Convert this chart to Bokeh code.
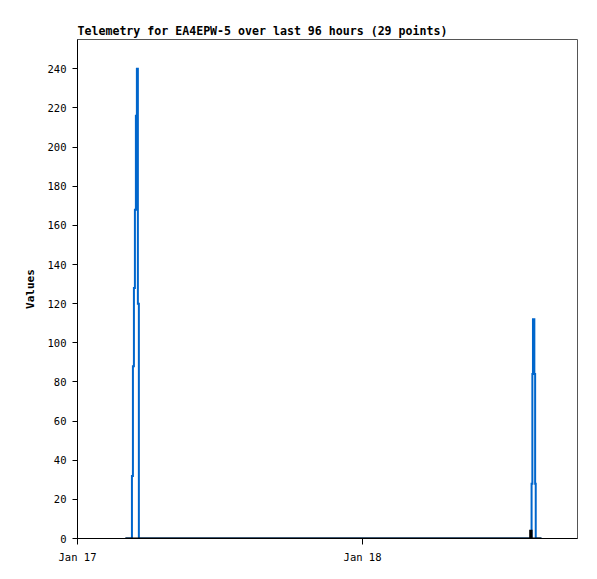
from datetime import datetime
from bokeh.plotting import figure
from bokeh.models import Range1d, FixedTicker, DatetimeTickFormatter, ColumnDataSource
from bokeh.embed import file_html
from bokeh.resources import INLINE

# ---- data ----
times = [
    "2025-01-17 04:02", "2025-01-17 04:35", "2025-01-17 04:40", "2025-01-17 04:45",
    "2025-01-17 04:50", "2025-01-17 04:55", "2025-01-17 05:00", "2025-01-17 05:05",
    "2025-01-17 05:10", "2025-01-17 07:10", "2025-01-17 09:40", "2025-01-17 12:25",
    "2025-01-17 15:05", "2025-01-17 18:30", "2025-01-17 21:50", "2025-01-18 01:15",
    "2025-01-18 04:40", "2025-01-18 07:20", "2025-01-18 09:55", "2025-01-18 12:05",
    "2025-01-18 13:40", "2025-01-18 14:07", "2025-01-18 14:14", "2025-01-18 14:18",
    "2025-01-18 14:21", "2025-01-18 14:28", "2025-01-18 14:32", "2025-01-18 14:35",
    "2025-01-18 15:04",
]
blue_values = [0, 32, 88, 128, 168, 216, 240, 120,
               0, 0, 0, 0, 0, 0, 0, 0,
               0, 0, 0, 0, 0, 0, 28, 84,
               112, 84, 28, 0, 0]
black_values = [0, 0, 0, 0, 0, 0, 0, 0,
                0, 0, 0, 0, 0, 0, 0, 0,
                0, 0, 0, 0, 0, 4, 0, 0,
                0, 0, 0, 0, 0]
y_ticks = [0, 20, 40, 60, 80, 100, 120, 140, 160, 180, 200, 220, 240]
x_tick_dates = ["2025-01-17 00:00", "2025-01-18 00:00"]
x_start = "2025-01-17 00:00"
x_end = "2025-01-18 18:06"
y_max = 255
title_text = "Telemetry for EA4EPW-5 over last 96 hours (29 points)"
y_label = "Values"

fmt = "%Y-%m-%d %H:%M"
t = [datetime.strptime(s, fmt) for s in times]
src = ColumnDataSource(dict(t=t, blue=blue_values, black=black_values))

def ms(s):
    return datetime.strptime(s, fmt).timestamp() * 1000.0

MONO = "DejaVu Sans Mono"

p = figure(width=588, height=571, output_backend="svg", toolbar_location=None,
           x_axis_type="datetime",
           x_range=Range1d(datetime.strptime(x_start, fmt), datetime.strptime(x_end, fmt)),
           y_range=Range1d(0, y_max),
           min_border_left=77, min_border_right=11, min_border_top=39, min_border_bottom=33)

p.step("t", "blue", source=src, mode="after", line_color="#0066cc", line_width=2,
       line_join="miter")
p.step("t", "black", source=src, mode="after", line_color="#000000", line_width=2,
       line_join="miter")

p.title.text = title_text
p.title.text_font = MONO
p.title.text_font_style = "bold"
p.title.text_font_size = "11.6px"
p.title.text_color = "black"
p.title.align = "left"
p.title.offset = 0
p.title.standoff = 4

p.grid.visible = False
p.outline_line_color = "#555555"
p.outline_line_width = 1
p.background_fill_color = "white"
p.border_fill_color = "white"

yax = p.yaxis[0]
yax.ticker = FixedTicker(ticks=y_ticks)
yax.minor_tick_line_color = None
yax.major_tick_out = 5
yax.major_tick_in = 0
yax.axis_line_color = "black"
yax.major_tick_line_color = "black"
yax.major_label_text_font = MONO
yax.major_label_text_font_size = "10.5px"
yax.major_label_text_color = "black"
yax.major_label_standoff = 6
yax.axis_label = y_label
yax.axis_label_text_font = MONO
yax.axis_label_text_font_style = "bold"
yax.axis_label_text_font_size = "11px"
yax.axis_label_text_color = "black"
yax.axis_label_standoff = 8

xax = p.xaxis[0]
xax.ticker = FixedTicker(ticks=[ms(s) for s in x_tick_dates])
xax.formatter = DatetimeTickFormatter(days="%b %d", months="%b %d", hours="%b %d",
                                      years="%b %d", minutes="%b %d", hourmin="%b %d")
xax.minor_tick_line_color = None
xax.major_tick_out = 6
xax.major_tick_in = 0
xax.axis_line_color = "black"
xax.major_tick_line_color = "black"
xax.major_label_text_font = MONO
xax.major_label_text_font_size = "10.5px"
xax.major_label_text_color = "black"
xax.major_label_standoff = 6

open("out.html", "w").write(file_html(p, INLINE))
